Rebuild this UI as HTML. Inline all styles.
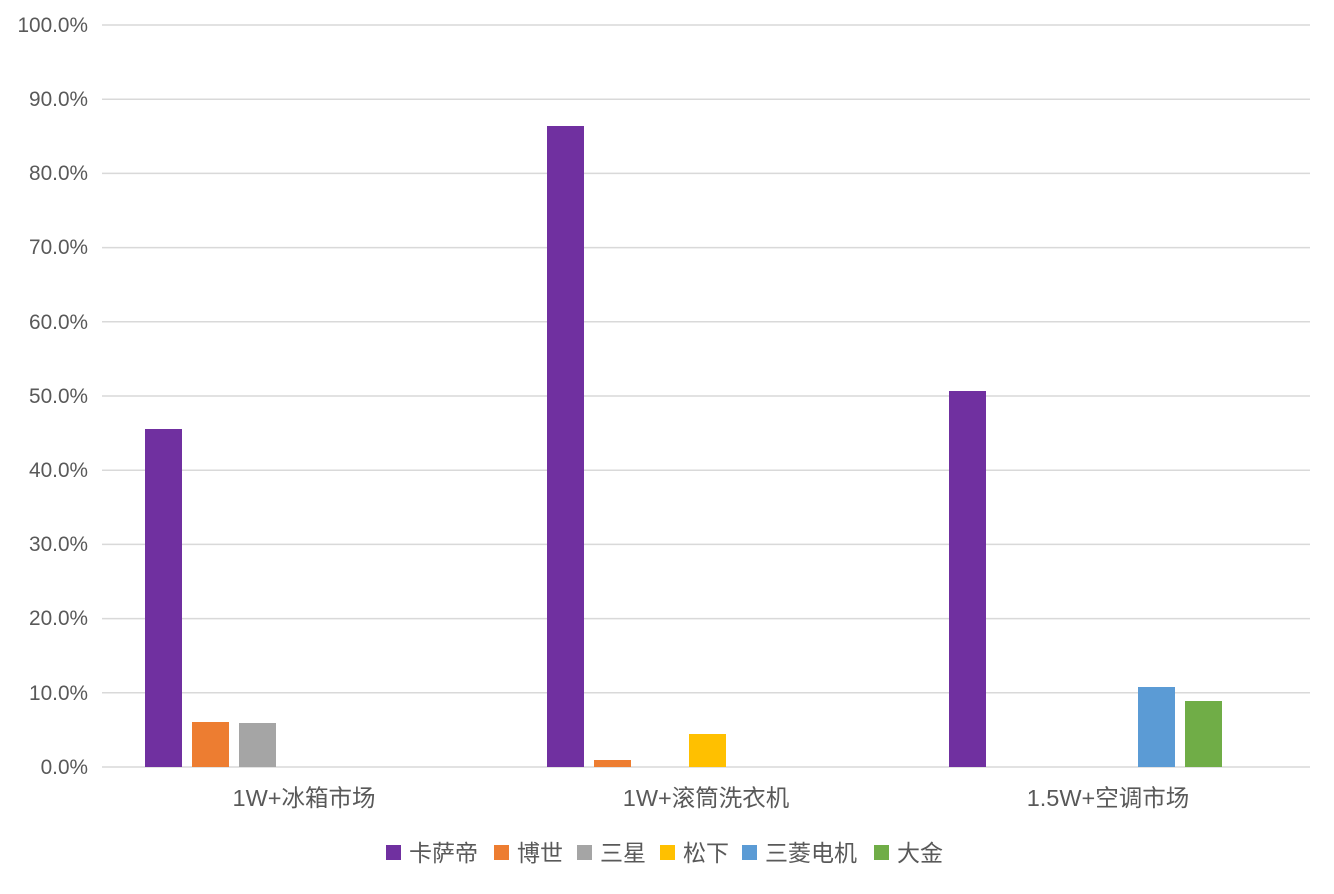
<!DOCTYPE html>
<html><head><meta charset="utf-8"><style>
body{margin:0;background:#fff}
svg text{font-family:"Liberation Sans","Noto Sans CJK SC",sans-serif;fill:#595959}
</style></head><body>
<svg width="1334" height="889" xmlns="http://www.w3.org/2000/svg">
<g stroke="#d9d9d9" stroke-width="1.5">
<line x1="102" x2="1310" y1="25" y2="25"/>
<line x1="102" x2="1310" y1="99.2" y2="99.2"/>
<line x1="102" x2="1310" y1="173.4" y2="173.4"/>
<line x1="102" x2="1310" y1="247.6" y2="247.6"/>
<line x1="102" x2="1310" y1="321.8" y2="321.8"/>
<line x1="102" x2="1310" y1="396" y2="396"/>
<line x1="102" x2="1310" y1="470.2" y2="470.2"/>
<line x1="102" x2="1310" y1="544.4" y2="544.4"/>
<line x1="102" x2="1310" y1="618.6" y2="618.6"/>
<line x1="102" x2="1310" y1="692.8" y2="692.8"/>
<line x1="102" x2="1310" y1="767" y2="767"/>
</g>
<g font-size="20.8" text-anchor="end">
<text x="88" y="32">100.0%</text>
<text x="88" y="106">90.0%</text>
<text x="88" y="180">80.0%</text>
<text x="88" y="254">70.0%</text>
<text x="88" y="329">60.0%</text>
<text x="88" y="403">50.0%</text>
<text x="88" y="477">40.0%</text>
<text x="88" y="551">30.0%</text>
<text x="88" y="625">20.0%</text>
<text x="88" y="700">10.0%</text>
<text x="88" y="774">0.0%</text>
</g>
<rect x="145" y="429" width="37" height="338" fill="#7030a0"/>
<rect x="192" y="722" width="37" height="45" fill="#ed7d31"/>
<rect x="239" y="723" width="37" height="44" fill="#a5a5a5"/>
<rect x="547" y="126" width="37" height="641" fill="#7030a0"/>
<rect x="594" y="760" width="37" height="7" fill="#ed7d31"/>
<rect x="689" y="734" width="37" height="33" fill="#ffc000"/>
<rect x="949" y="391" width="37" height="376" fill="#7030a0"/>
<rect x="1138" y="687" width="37" height="80" fill="#5b9bd5"/>
<rect x="1185" y="701" width="37" height="66" fill="#70ad47"/>
<g font-size="23.5" text-anchor="middle">
<text x="304" y="806">1W+冰箱市场</text>
<text x="706" y="806">1W+滚筒洗衣机</text>
<text x="1108" y="806">1.5W+空调市场</text>
</g>
<g font-size="23">
<rect x="386" y="845" width="15" height="15" fill="#7030a0"/><text x="409" y="861">卡萨帝</text>
<rect x="494" y="845" width="15" height="15" fill="#ed7d31"/><text x="517" y="861">博世</text>
<rect x="577" y="845" width="15" height="15" fill="#a5a5a5"/><text x="600" y="861">三星</text>
<rect x="660" y="845" width="15" height="15" fill="#ffc000"/><text x="683" y="861">松下</text>
<rect x="742" y="845" width="15" height="15" fill="#5b9bd5"/><text x="765" y="861">三菱电机</text>
<rect x="874" y="845" width="15" height="15" fill="#70ad47"/><text x="897" y="861">大金</text>
</g>
</svg>
</body></html>
